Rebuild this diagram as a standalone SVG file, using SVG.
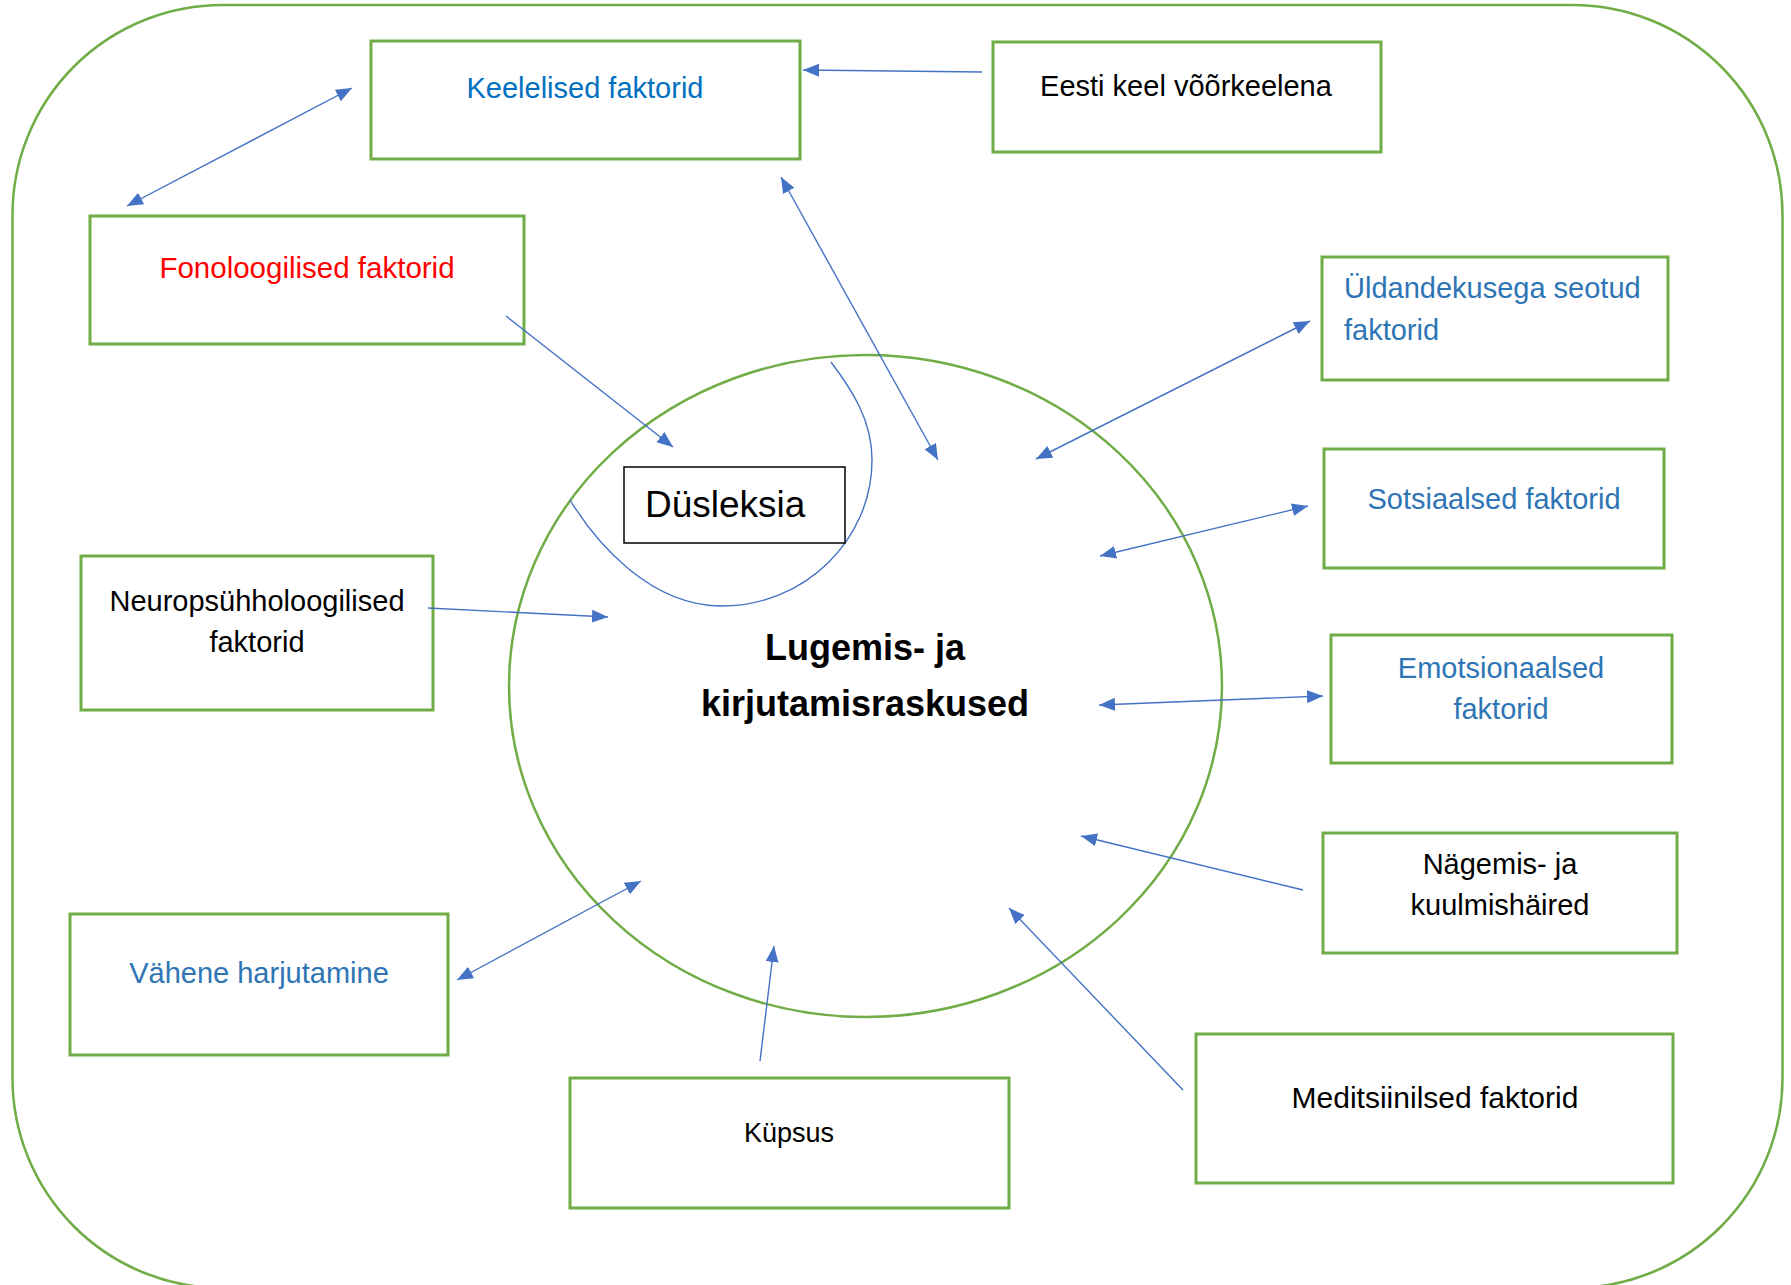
<svg xmlns="http://www.w3.org/2000/svg" width="1791" height="1285" viewBox="0 0 1791 1285">
<style>
.box{fill:#fff;stroke:#70AD47;stroke-width:3}
.t{font-family:"Liberation Sans",Arial,sans-serif;font-size:29px;text-anchor:middle}
.blk{fill:#000}
.blu{fill:#2E75B6}
.conn line{stroke:#4472C4;stroke-width:1.4;fill:none}
</style>
<defs>
<marker id="ah" markerUnits="userSpaceOnUse" markerWidth="18" markerHeight="14" refX="16" refY="6.5" orient="auto-start-reverse">
<path d="M0,0 L16,6.5 L0,13 z" fill="#4472C4"/>
</marker>
</defs>
<rect x="0" y="0" width="1791" height="1285" fill="#fff"/>
<rect id="outer" x="12.5" y="5" width="1770" height="1283" rx="210" ry="210" fill="none" stroke="#70AD47" stroke-width="2.5"/>

<g id="center">
<ellipse cx="865.5" cy="686" rx="356.5" ry="331" fill="none" stroke="#70AD47" stroke-width="2.5"/>
<text class="t blk" x="865" y="660" style="font-size:36px;font-weight:bold">Lugemis- ja</text>
<text class="t blk" x="865" y="716" style="font-size:36px;font-weight:bold">kirjutamisraskused</text>
</g>

<g id="dusleksia">
<path d="M831,362 C852,390 872,420 872,460 C872,540 804.5,606 722,606 C650,606 596,542.5 570,500" fill="none" stroke="#4472C4" stroke-width="1.4"/>
<rect x="624" y="467" width="221" height="76" fill="#fff" stroke="#000" stroke-width="1.5"/>
<text class="t blk" x="645" y="517" style="font-size:37px;text-anchor:start">Düsleksia</text>
</g>

<g id="keelelised">
<rect class="box" x="371" y="41" width="429" height="118"/>
<text class="t" x="585" y="98" fill="#0070C0">Keelelised faktorid</text>
</g>
<g id="eesti">
<rect class="box" x="993" y="42" width="388" height="110"/>
<text class="t blk" x="1186" y="96">Eesti keel võõrkeelena</text>
</g>
<g id="fonoloogilised">
<rect class="box" x="90" y="216" width="434" height="128"/>
<text class="t" x="307" y="278" fill="#FF0000" style="font-size:29.5px">Fonoloogilised faktorid</text>
</g>
<g id="uldandekus">
<rect class="box" x="1322" y="257" width="346" height="123"/>
<text class="t blu" x="1344" y="298" style="text-anchor:start">Üldandekusega seotud</text>
<text class="t blu" x="1344" y="340" style="text-anchor:start">faktorid</text>
</g>
<g id="sotsiaalsed">
<rect class="box" x="1324" y="449" width="340" height="119"/>
<text class="t blu" x="1494" y="509">Sotsiaalsed faktorid</text>
</g>
<g id="neuro">
<rect class="box" x="81" y="556" width="352" height="154"/>
<text class="t blk" x="257" y="611">Neuropsühholoogilised</text>
<text class="t blk" x="257" y="652">faktorid</text>
</g>
<g id="emotsionaalsed">
<rect class="box" x="1331" y="635" width="341" height="128"/>
<text class="t blu" x="1501" y="678">Emotsionaalsed</text>
<text class="t blu" x="1501" y="719">faktorid</text>
</g>
<g id="nagemis">
<rect class="box" x="1323" y="833" width="354" height="120"/>
<text class="t blk" x="1500" y="874">Nägemis- ja</text>
<text class="t blk" x="1500" y="915">kuulmishäired</text>
</g>
<g id="vahene">
<rect class="box" x="70" y="914" width="378" height="141"/>
<text class="t blu" x="259" y="983">Vähene harjutamine</text>
</g>
<g id="kupsus">
<rect class="box" x="570" y="1078" width="439" height="130"/>
<text class="t blk" x="789" y="1142" style="font-size:27px">Küpsus</text>
</g>
<g id="meditsiinilsed">
<rect class="box" x="1196" y="1034" width="477" height="149"/>
<text class="t blk" x="1435" y="1108" style="font-size:30px">Meditsiinilsed faktorid</text>
</g>

<g id="connectors" class="conn">
<line x1="127" y1="206" x2="352" y2="88" marker-start="url(#ah)" marker-end="url(#ah)"/>
<line x1="982" y1="72" x2="803" y2="70" marker-end="url(#ah)"/>
<line x1="781" y1="177" x2="938" y2="460" marker-start="url(#ah)" marker-end="url(#ah)"/>
<line x1="506" y1="316" x2="673" y2="447" marker-end="url(#ah)"/>
<line x1="1036" y1="459" x2="1310" y2="321" marker-start="url(#ah)" marker-end="url(#ah)"/>
<line x1="1100" y1="556" x2="1308" y2="506" marker-start="url(#ah)" marker-end="url(#ah)"/>
<line x1="1099" y1="705" x2="1323" y2="696" marker-start="url(#ah)" marker-end="url(#ah)"/>
<line x1="1303" y1="890" x2="1081" y2="836" marker-end="url(#ah)"/>
<line x1="1183" y1="1090" x2="1009" y2="908" marker-end="url(#ah)"/>
<line x1="760" y1="1061" x2="774" y2="946" marker-end="url(#ah)"/>
<line x1="457" y1="980" x2="641" y2="881" marker-start="url(#ah)" marker-end="url(#ah)"/>
<line x1="428" y1="608" x2="608" y2="617" marker-end="url(#ah)"/>
</g>
</svg>
